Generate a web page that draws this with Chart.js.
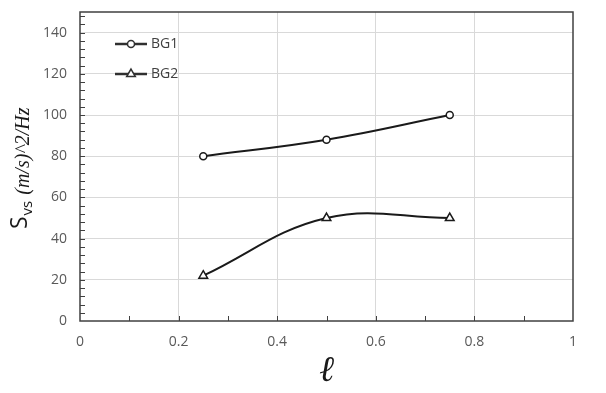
<!DOCTYPE html>
<html><head><meta charset="utf-8">
<script src="https://cdn.jsdelivr.net/npm/chart.js@4/dist/chart.umd.min.js"></script>
<style>html,body{margin:0;padding:0;background:#fff;}#wrap{width:606px;height:393px;position:relative;}</style>
</head><body><div id="wrap"><canvas id="c" width="606" height="393"></canvas></div>
<script>
const lengths = [0.25, 0.5, 0.75];
const bg1 = [80, 88, 100];
const bg2 = [22, 50, 50];
const seriesNames = ['BG1', 'BG2'];
const xTicks = [0, 0.2, 0.4, 0.6, 0.8, 1];
const yTicks = [0, 20, 40, 60, 80, 100, 120, 140];
const yMax = 150;

const frame = {
  id: 'frame',
  afterDraw(chart) {
    const ctx = chart.ctx, a = chart.chartArea;
    const xs = chart.scales.x, ys = chart.scales.y;
    ctx.save();
    // minor ticks (inward)
    ctx.strokeStyle = '#404040';
    ctx.lineWidth = 1;
    ctx.beginPath();
    for (let v = 4; v < yMax; v += 4) {
      const y = Math.round(ys.getPixelForValue(v)) + 0.5;
      ctx.moveTo(a.left, y); ctx.lineTo(a.left + 5, y);
    }
    for (let i = 1; i < 10; i++) {
      const x = Math.round(xs.getPixelForValue(i / 10)) + 0.5;
      ctx.moveTo(x, a.bottom); ctx.lineTo(x, a.bottom - 5);
    }
    ctx.stroke();
    // box
    ctx.strokeStyle = '#404040';
    ctx.lineWidth = 1.5;
    ctx.strokeRect(a.left, a.top, a.right - a.left, a.bottom - a.top);
    // legend
    const items = [
      {name: seriesNames[0], y: 44, style: 'circle', r: 3.5},
      {name: seriesNames[1], y: 74, style: 'triangle', r: 5}
    ];
    items.forEach(it => {
      ctx.strokeStyle = '#303030';
      ctx.lineWidth = 2.5;
      ctx.beginPath(); ctx.moveTo(115, it.y); ctx.lineTo(147, it.y); ctx.stroke();
      ctx.fillStyle = '#fff'; ctx.lineWidth = 1.5; ctx.strokeStyle = '#303030';
      Chart.helpers.drawPoint(ctx, {pointStyle: it.style, radius: it.r, borderWidth: 1.5}, 131, it.y);
      ctx.fillStyle = '#404040';
      ctx.font = '14px "Open Sans"';
      ctx.textBaseline = 'middle'; ctx.textAlign = 'left';
      ctx.fillText(it.name, 151, it.y);
    });
    // y title
    ctx.translate(27, 229);
    ctx.rotate(-Math.PI / 2);
    ctx.fillStyle = '#1a1a1a';
    ctx.textBaseline = 'alphabetic'; ctx.textAlign = 'left';
    ctx.font = '23px "Open Sans"';
    ctx.fillText('S', 0, 0);
    let w = ctx.measureText('S').width;
    ctx.font = '15px "Open Sans"';
    ctx.fillText('vs', w + 1, 5);
    w += 1 + ctx.measureText('vs').width + 6;
    ctx.font = 'italic 20px "Liberation Serif"';
    ctx.fillText('(m/s)^2/Hz', w, 2);
    ctx.restore();
  }
};

const gridColor = (c) => (c.tick && (c.tick.value === 0 || c.tick.value === 1 || c.tick.value === yMax)) ? 'rgba(0,0,0,0)' : '#d9d9d9';

new Chart(document.getElementById('c'), {
  type: 'line',
  data: {
    datasets: [
      {label: seriesNames[0], data: lengths.map((x, i) => ({x, y: bg1[i]})),
       borderColor: '#1a1a1a', borderWidth: 2, tension: 0.4,
       pointStyle: 'circle', pointRadius: 3.5, pointBorderWidth: 1.5,
       pointBackgroundColor: '#fff', pointBorderColor: '#1a1a1a'},
      {label: seriesNames[1], data: lengths.map((x, i) => ({x, y: bg2[i]})),
       borderColor: '#1a1a1a', borderWidth: 2, tension: 0.4,
       pointStyle: 'triangle', pointRadius: 5, pointBorderWidth: 1.5,
       pointBackgroundColor: '#fff', pointBorderColor: '#1a1a1a'}
    ]
  },
  options: {
    responsive: false, animation: false, devicePixelRatio: 1,
    layout: {padding: {left: 0, right: 33, top: 12, bottom: 0}},
    plugins: {legend: {display: false}, tooltip: {enabled: false}},
    scales: {
      x: {
        type: 'linear', min: 0, max: 1,
        afterBuildTicks: s => { s.ticks = xTicks.map(v => ({value: v})); },
        afterFit: s => { s.height = 72; s.paddingLeft = 0; s.paddingRight = 0; },
        grid: {color: gridColor, drawTicks: false},
        border: {display: false},
        ticks: {padding: 13, color: '#595959', font: {family: 'Open Sans', size: 14},
                callback: v => String(v)},
        title: {display: true, text: 'ℓ', color: '#1a1a1a',
                font: {family: 'Liberation Serif', style: 'italic', size: 36}, padding: {top: 0, bottom: 0}}
      },
      y: {
        type: 'linear', min: 0, max: yMax,
        afterBuildTicks: s => { s.ticks = yTicks.map(v => ({value: v})); },
        afterFit: s => { s.width = 80; s.paddingTop = 0; s.paddingBottom = 0; },
        grid: {color: gridColor, drawTicks: false},
        border: {display: false},
        ticks: {padding: 13, color: '#595959', font: {family: 'Open Sans', size: 14}}
      }
    }
  },
  plugins: [frame]
});
</script></body></html>
